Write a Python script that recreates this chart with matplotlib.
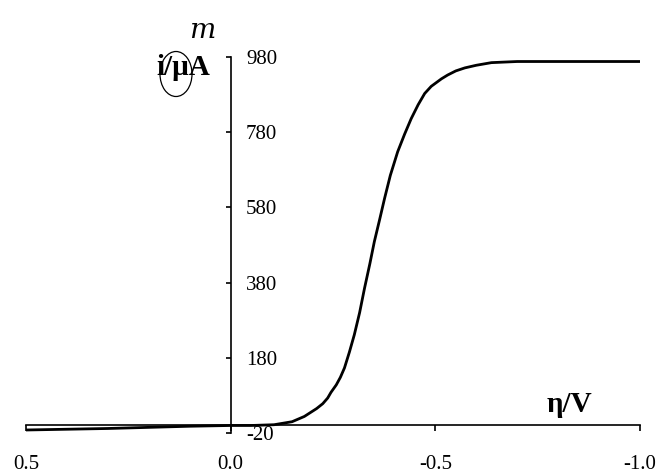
import matplotlib
matplotlib.use("Agg")
import matplotlib.pyplot as plt
from matplotlib.patches import Ellipse

# overpotential (V) and current (uA)
eta = [0.5, 0.4, 0.3, 0.2, 0.1, 0.0, -0.05, -0.106, -0.15, -0.18, -0.21,
       -0.225, -0.237, -0.245, -0.258, -0.268, -0.278, -0.29, -0.302, -0.315,
       -0.327, -0.34, -0.351, -0.364, -0.376, -0.39, -0.408, -0.425, -0.441,
       -0.458, -0.474, -0.49, -0.515, -0.53, -0.55, -0.572, -0.6, -0.637,
       -0.7, -0.8, -0.9, -1.0]
current = [-12, -10, -8, -5, -2, 0, 0, 2, 10, 24, 45,
           58, 73, 88, 108, 128, 153, 195, 241, 300,
           365, 430, 489, 548, 604, 665, 728, 775, 816,
           853, 883, 902, 922, 932, 943, 951, 958, 965,
           968, 968, 968, 968]

x_ticks = [0.5, 0.0, -0.5, -1.0]
x_labels = ["0.5", "0.0", "-0.5", "-1.0"]
y_ticks = [-20, 180, 380, 580, 780, 980]

serif = ["Liberation Serif", "DejaVu Serif"]

fig = plt.figure(figsize=(6.63, 4.76), dpi=100)
ax = fig.add_axes([26 / 663, 43 / 476, 614 / 663, 376 / 476])

ax.plot(eta, current, color="black", lw=2.0, solid_capstyle="round",
        solid_joinstyle="round")

ax.set_xlim(0.5, -1.0)
ax.set_ylim(-20, 980)

ax.spines["top"].set_visible(False)
ax.spines["right"].set_visible(False)
ax.spines["left"].set_position(("data", 0.0))
ax.spines["bottom"].set_position(("data", 0.0))
for s in ("left", "bottom"):
    ax.spines[s].set_linewidth(1.2)

ax.set_xticks(x_ticks)
ax.set_xticklabels(x_labels, fontfamily=serif, fontsize=15)
ax.set_yticks(y_ticks)
ax.set_yticklabels([str(v) for v in y_ticks], fontfamily=serif, fontsize=15)
for lab in ax.get_yticklabels():
    lab.set_horizontalalignment("left")

ax.tick_params(axis="x", direction="out", length=4, width=1.2, pad=17)
ax.tick_params(axis="y", direction="out", length=3.5, width=1.2, pad=-14.5)

ax.text(0.2997, 0.971, "i/\u00b5A", transform=ax.transAxes, ha="right", va="center",
        fontfamily=serif, fontsize=21, fontweight="bold")
ax.text(0.885, 0.0745, "\u03b7/V", transform=ax.transAxes, ha="center", va="center",
        fontfamily=serif, fontsize=21, fontweight="bold")

# handwritten note over the unit
fig.text(202 / 663, 1 - 30 / 476, "m", ha="center", va="center",
         fontfamily="DejaVu Serif", style="italic", fontsize=20)
fig.add_artist(Ellipse((176 / 663, 1 - 74 / 476), 32 / 663, 45 / 476,
                       transform=fig.transFigure, fill=False, lw=0.9, color="black"))

fig.savefig("out.png", dpi=100)
